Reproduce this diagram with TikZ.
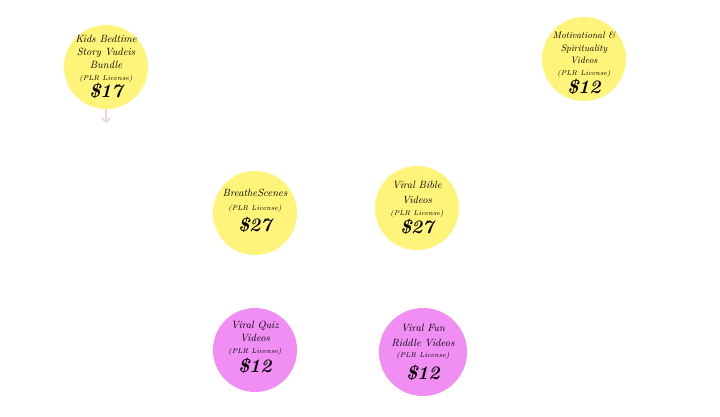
\documentclass[tikz,border=0pt]{standalone}
\usepackage{tikz}
\usetikzlibrary{positioning,arrows.meta}
\usepackage[dvipsnames]{xcolor}
\definecolor{bundleyellow}{HTML}{FFF47A}
\definecolor{bundlepink}{HTML}{F08EF4}
\definecolor{arrowpink}{HTML}{EDD5DF}
\newcommand{\lic}{{\itshape\fontsize{7}{9}\selectfont(PLR License)}}
\newcommand{\price}[1]{{\bfseries\itshape\fontsize{19}{19}\selectfont\$#1}}

\begin{document}
\begin{tikzpicture}[x=1pt,y=-1pt,
    offer/.style={circle,minimum size=84pt,inner sep=0pt},
    upsell/.style={offer,fill=bundleyellow},
    downsell/.style={offer,fill=bundlepink},
    offertext/.style={align=center,inner sep=0pt,font=\itshape\fontsize{10.5}{13}\selectfont},
]
            \useasboundingbox (0,0) rectangle (720,416);
            \fill[white] (0,0) rectangle (720,416);
            % top row
            \node[upsell,label={[offertext]center:{Kids Bedtime\\Story Vudeis\\Bundle\\[-1pt]\lic\\\price{17}}}] (kids) at (106,67) {};
            \node[upsell,label={[offertext,font=\itshape\fontsize{9.5}{12.5}\selectfont,yshift=-4pt]center:{Motivational \&\\Spirituality\\Videos\\[-1pt]\lic\\[1pt]\price{12}}}] (motiv) at (584,59) {};
            % middle row
            \node[upsell,label={[offertext,yshift=2pt]center:{BreatheScenes\\[1pt]\lic\\[4pt]\price{27}}}] (breathe) at (255,213) {};
            \node[upsell,label={[offertext]center:{Viral Bible\\[2pt]Videos\\[-1pt]\lic\\[1pt]\price{27}}}] (bible) at (417,208) {};
            % bottom row
            \node[downsell,label={[offertext,yshift=3pt]center:{Viral Quiz\\Videos\\[-1pt]\lic\\[2pt]\price{12}}}] (quiz) at (255,350) {};
            \node[downsell,minimum size=88pt,label={[offertext]center:{Viral Fun\\[2pt]Riddle Videos\\[-2pt]\lic\\[5pt]\price{12}}}] (riddle) at (423,352) {};
            % faint pointer under the first offer
            \coordinate (kidsout) at (106,123);
            \draw[-{Straight Barb[length=4pt,width=9pt]},line width=1.6pt,arrowpink] (kids.south) -- (kidsout);
        \end{tikzpicture}
\end{document}
